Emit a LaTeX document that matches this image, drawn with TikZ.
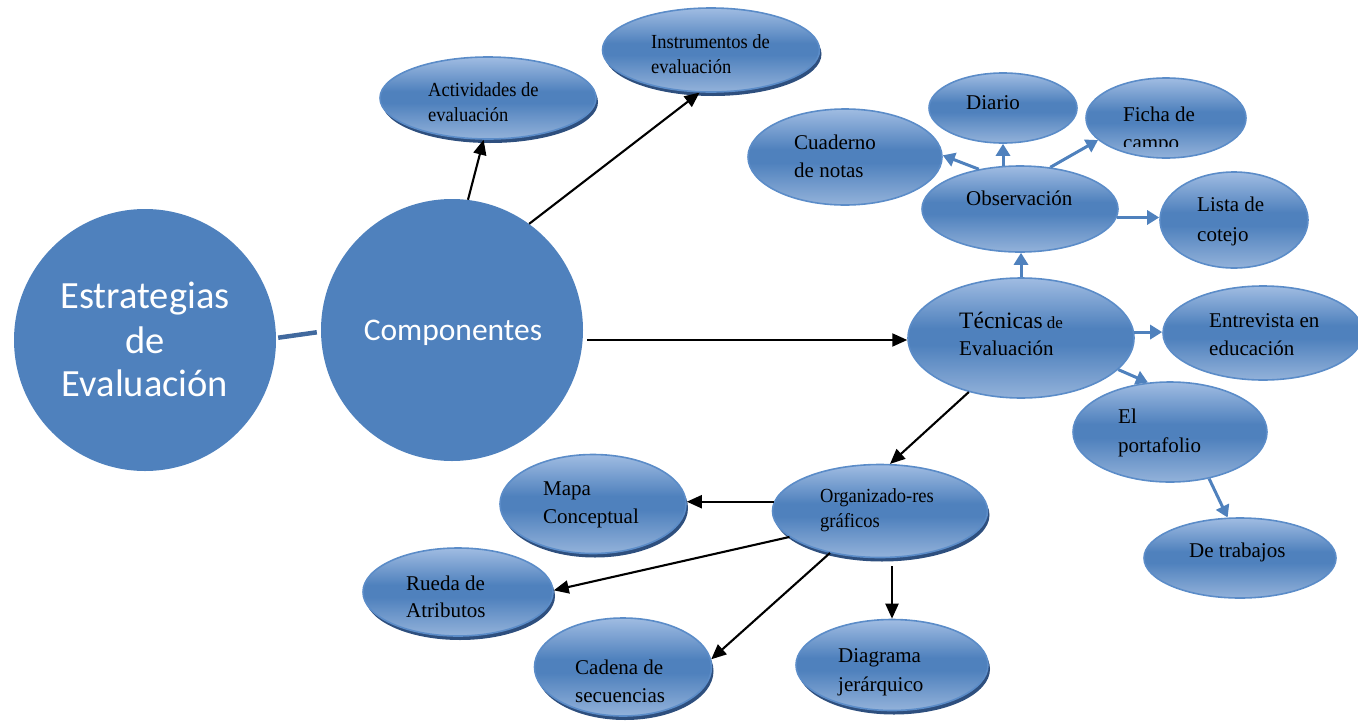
\documentclass[tikz,border=0pt]{standalone}
\usepackage{fontspec}
\setmainfont{Liberation Serif}
\newfontfamily\calib{Carlito}
\usetikzlibrary{arrows.meta,shadows,shapes.geometric,calc}
\definecolor{bfill}{HTML}{4F81BD}
\definecolor{btop}{HTML}{A0BCE2}
\definecolor{bmid}{HTML}{4F81BD}
\definecolor{bbot}{HTML}{93B2DA}
\definecolor{bline}{HTML}{5B8CC8}
\definecolor{shdw}{HTML}{2E4F7E}
\definecolor{conn}{HTML}{41699E}
\pgfdeclareverticalshading{ellshade}{100bp}{color(0bp)=(bbot); color(25bp)=(bbot); color(47bp)=(bmid); color(54bp)=(bmid); color(75bp)=(btop); color(100bp)=(btop)}
\newcommand\lbl[4]{\node[#1, anchor=base west, inner sep=0pt] (#2) at (#3) {#4};}
\newcommand\tall[1]{\scalebox{1}[1.08]{#1}}
\begin{document}
\begin{tikzpicture}[x=1pt,y=-1pt,
  big/.style={circle, fill=bfill, inner sep=0pt, minimum size=262pt},
  ell/.style={ellipse, draw=bline, line width=1.6pt, shading=ellshade, inner sep=0pt},
  shd/.style={ell, drop shadow={shadow xshift=2pt, shadow yshift=-4pt, fill=shdw, opacity=1}},
  wt/.style={text=white, font=\calib\fontsize{38.5}{44}\selectfont, inner sep=0pt, anchor=base},
  tA/.style={font=\fontsize{21}{28}\selectfont},
  tB/.style={font=\fontsize{18.5}{25}\selectfont},
  barr/.style={line width=2.1pt, -{Triangle[length=15pt,width=13pt]}},
  carr/.style={line width=3pt, bfill, -{Triangle[length=12pt,width=14pt]}}
]
\useasboundingbox (0,0) rectangle (1358,726);
% big circles
\node[big] (estr) at (145,340) {};
\node[big] (comp) at (452,330) {};
\node[wt] (estr1) at (145,308) {Estrategias};
\node[wt] (estr2) at (145,353) {de};
\node[wt] (estr3) at (145,396) {Evaluación};
\node[wt, font=\calib\fontsize{31.5}{36}\selectfont] (comp1) at (453,340) {Componentes};
\draw[line width=4.5pt, conn] ([xshift=2pt]estr.1) -- ([xshift=-4pt]comp.181);
% ellipses
\node[shd, minimum width=216pt, minimum height=82pt] (act) at (488,98) {};
\node[shd, minimum width=217pt, minimum height=84pt] (inst) at (711,50) {};
\node[ell, minimum width=194pt, minimum height=96pt] (cuad) at (845,157) {};
\node[ell, minimum width=148pt, minimum height=70pt] (diar) at (1003,108) {};
\node[ell, minimum width=160pt, minimum height=80pt] (ficha) at (1166,118) {};
\node[ell, minimum width=196pt, minimum height=86pt] (obs) at (1020,209) {};
\node[ell, minimum width=148pt, minimum height=96pt] (lista) at (1234,220) {};
\node[ell, minimum width=226pt, minimum height=120pt] (tec) at (1021,338) {};
\node[ell, minimum width=200pt, minimum height=94pt] (entr) at (1263,333) {};
\node[ell, minimum width=194pt, minimum height=100pt] (port) at (1170,432) {};
\node[ell, minimum width=192pt, minimum height=80pt] (trab) at (1240,558) {};
\node[shd, minimum width=215pt, minimum height=93pt] (org) at (880,511) {};
\node[shd, minimum width=186pt, minimum height=99pt] (mapa) at (593,504) {};
\node[shd, minimum width=190pt, minimum height=88pt] (rueda) at (458,592) {};
\node[shd, minimum width=177pt, minimum height=98pt] (cadena) at (623,667) {};
\node[shd, minimum width=192pt, minimum height=91pt] (diag) at (892,665) {};
% labels
\lbl{tB}{act1}{428,96}{\tall{Actividades de}}
\lbl{tB}{act2}{428,121}{\tall{evaluación}}
\lbl{tB}{inst1}{651,48}{\tall{Instrumentos de}}
\lbl{tB}{inst2}{651,73}{\tall{evaluación}}
\lbl{tA}{cuad1}{794,149}{Cuaderno}
\lbl{tA}{cuad2}{794,177}{de notas}
\lbl{tA}{diar1}{966,109}{Diario}
\lbl{tA}{ficha1}{1123,121}{Ficha de}
\begin{scope}
\clip (1100,130) rectangle (1240,146);
\lbl{tA}{ficha2}{1123,149}{campo}
\end{scope}
\lbl{tA}{obs1}{966,205}{Observación}
\lbl{tA}{lista1}{1197,211}{Lista de}
\lbl{tA}{lista2}{1197,241}{cotejo}
\lbl{tA}{tec1}{959,328}{{\fontsize{23.5}{28}\selectfont Técnicas}{\fontsize{17}{20}\selectfont\ de}}
\lbl{tA}{tec2}{959,355}{Evaluación}
\lbl{tA}{entr1}{1209,327}{Entrevista en}
\lbl{tA}{entr2}{1209,355}{educación}
\lbl{tA}{port1}{1118,423}{El}
\lbl{tA}{port2}{1118,452}{portafolio}
\lbl{tA}{trab1}{1189,557}{De trabajos}
\lbl{tB}{org1}{820,502}{\tall{Organizado-res}}
\lbl{tB}{org2}{820,527}{\tall{gráficos}}
\lbl{tA}{mapa1}{543,495}{Mapa}
\lbl{tA}{mapa2}{543,523}{Conceptual}
\lbl{tA}{rueda1}{406,590}{Rueda de}
\lbl{tA}{rueda2}{406,617}{Atributos}
\lbl{tA}{cad1}{575,674}{Cadena de}
\lbl{tA}{cad2}{575,702}{secuencias}
\lbl{tA}{diag1}{838,662}{Diagrama}
\lbl{tA}{diag2}{838,691}{jerárquico}
% black arrows
\draw[barr] (comp.83) -- (act.-96);
\draw[barr] (comp.54) -- (inst.-105);
\draw[barr] ([xshift=4pt]comp.east |- tec.181) -- (tec.181);
\draw[barr] (tec.-134) -- (org.78);
\draw[barr] (org.175) -- (org.175 -| mapa.east);
\draw[barr] (org.196) -- (rueda.1);
\draw[barr] (org.220) -- (cadena.5);
\draw[barr] ([yshift=-8pt]diag.north |- org.south) -- (diag.north);
% blue arrows
\draw[carr] (tec.north) -- (tec.north |- obs.south);
\draw[carr] (obs.136) -- (cuad.1);
\draw[carr] (diar.south |- obs.111) -- (diar.south);
\draw[carr] (obs.54) -- (ficha.198);
\draw[carr] (obs.-5) -- (obs.-5 -| lista.west);
\draw[carr] (tec.3) -- (tec.3 -| entr.west);
\draw[carr] (tec.-18) -- (port.114);
\draw[carr] (port.-50) -- (trab.107);
\end{tikzpicture}
\end{document}
